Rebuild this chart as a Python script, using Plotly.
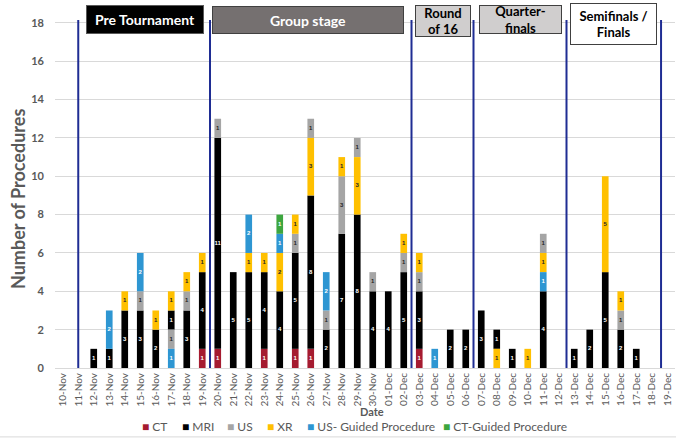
import plotly.graph_objects as go

# ---------------- data ----------------
dates = ['10-Nov', '11-Nov', '12-Nov', '13-Nov', '14-Nov', '15-Nov', '16-Nov', '17-Nov',
         '18-Nov', '19-Nov', '20-Nov', '21-Nov', '22-Nov', '23-Nov', '24-Nov', '25-Nov',
         '26-Nov', '27-Nov', '28-Nov', '29-Nov', '30-Nov', '01-Dec', '02-Dec', '03-Dec',
         '04-Dec', '05-Dec', '06-Dec', '07-Dec', '08-Dec', '09-Dec', '10-Dec', '11-Dec',
         '12-Dec', '13-Dec', '14-Dec', '15-Dec', '16-Dec', '17-Dec', '18-Dec', '19-Dec']

ct  = [0, 0, 0, 0, 0, 0, 0, 0, 0, 1, 1, 0, 0, 1, 0, 1, 1, 0, 0, 0,
       0, 0, 0, 1, 0, 0, 0, 0, 0, 0, 0, 0, 0, 0, 0, 0, 0, 0, 0, 0]
mri = [0, 0, 1, 1, 3, 3, 2, 1, 3, 4, 11, 5, 5, 4, 4, 5, 8, 2, 7, 8,
       4, 4, 5, 3, 0, 2, 2, 3, 1, 1, 0, 4, 0, 1, 2, 5, 2, 1, 0, 0]
us  = [0, 0, 0, 0, 0, 1, 0, 1, 1, 0, 1, 0, 0, 0, 0, 1, 1, 1, 3, 1,
       1, 0, 1, 1, 0, 0, 0, 0, 0, 0, 0, 1, 0, 0, 0, 0, 1, 0, 0, 0]
xr  = [0, 0, 0, 0, 1, 0, 1, 1, 1, 1, 0, 0, 1, 1, 2, 1, 3, 0, 1, 3,
       0, 0, 1, 1, 0, 0, 0, 0, 1, 0, 1, 1, 0, 0, 0, 5, 1, 0, 0, 0]
usg = [0, 0, 0, 2, 0, 2, 0, 1, 0, 0, 0, 0, 2, 0, 1, 0, 0, 2, 0, 0,
       0, 0, 0, 0, 1, 0, 0, 0, 0, 0, 0, 1, 0, 0, 0, 0, 0, 0, 0, 0]
ctg = [0, 0, 0, 0, 0, 0, 0, 0, 0, 0, 0, 0, 0, 0, 1, 0, 0, 0, 0, 0,
       0, 0, 0, 0, 0, 0, 0, 0, 0, 0, 0, 0, 0, 0, 0, 0, 0, 0, 0, 0]

series_names = ['CT', 'MRI', 'US', 'XR', 'US- Guided Procedure', 'CT-Guided Procedure']
series_values = [ct, mri, us, xr, usg, ctg]

stages = ['Pre Tournament', 'Group stage', 'Round<br>of 16', 'Quarter-<br>finals', 'Semifinals /<br>Finals']

# stacking order differs on some days in the original chart
default_order = ['CT', 'MRI', 'US', 'XR', 'US- Guided Procedure', 'CT-Guided Procedure']
order_override = {
    '17-Nov': ['US- Guided Procedure', 'US', 'MRI', 'XR'],
    '26-Nov': ['CT', 'MRI', 'XR', 'US'],
    '29-Nov': ['MRI', 'XR', 'US'],
    '08-Dec': ['XR', 'MRI'],
    '11-Dec': ['MRI', 'US- Guided Procedure', 'XR', 'US'],
}

# ---------------- styles ----------------
colors = {'CT': '#A51B30', 'MRI': '#000000', 'US': '#A5A5A5', 'XR': '#FFC000',
          'US- Guided Procedure': '#2E96D2', 'CT-Guided Procedure': '#3DA63F'}
text_colors = {'CT': 'white', 'MRI': 'white', 'US': '#262626', 'XR': '#262626',
               'US- Guided Procedure': 'white', 'CT-Guided Procedure': 'white'}
divider_pos = [1, 9.5, 22.5, 26.5, 32.5, 38.6]
stage_x = [5.28, 15.85, 24.5, 29.5, 35.5]
stage_y = [1.0014, 1.0, 0.997, 1.001, 0.9885]
stage_w = [116, 190, 54, 81, 85]
stage_h = [27, 26, 30, 27, 40]
stage_fs = [14, 14, 13, 13, 13]
stage_bg = ['#000000', '#757070', '#D0CECE', '#D0CECE', '#FFFFFF']
stage_fg = ['#FFFFFF', '#FFFFFF', '#000000', '#000000', '#000000']
stage_border = ['#595959', '#404040', '#404040', '#404040', '#404040']
legend_x = [0.137, 0.201, 0.274, 0.338, 0.404, 0.623]  # paper x of each legend square

FONT = 'Lato'
GREY = '#595959'

# compute bases per day from stacking order
vals = dict(zip(series_names, series_values))
bases = {n: [None] * len(dates) for n in series_names}
for i, d in enumerate(dates):
    order = order_override.get(d, default_order)
    acc = 0
    for n in order:
        v = vals[n][i]
        if v:
            bases[n][i] = acc
            acc += v

fig = go.Figure()
for n in series_names:
    v = vals[n]
    y = [x if x else None for x in v]
    b = [bases[n][i] if v[i] else 0 for i in range(len(dates))]
    fig.add_trace(go.Bar(
        x=dates, y=y, base=b, name=n, showlegend=False,
        marker=dict(color=colors[n], line=dict(width=0)),
        width=0.43, hoverinfo='x+y+name',
    ))

# value labels in the middle of each segment
for n in series_names:
    v = vals[n]
    xs, ys, ts = [], [], []
    for i, d in enumerate(dates):
        if v[i]:
            xs.append(d)
            ys.append(bases[n][i] + v[i] / 2)
            ts.append(str(v[i]))
    fig.add_trace(go.Scatter(
        x=xs, y=ys, text=ts, mode='text', showlegend=False, hoverinfo='skip',
        textfont=dict(family='Arial', size=6, color=text_colors[n], weight='bold'),
        textposition='middle center', cliponaxis=False))

shapes = []
for p in divider_pos:
    shapes.append(dict(type='line', xref='x', yref='y', x0=p, x1=p, y0=0, y1=18.15,
                       line=dict(color='#1F2D93', width=2)))
# faint chart-area border line at the bottom
shapes.append(dict(type='line', xref='paper', yref='paper', x0=-0.0887, x1=1.0016,
                   y0=-0.198, y1=-0.198, line=dict(color='#D9D9D9', width=1)))

annotations = []
for s, x, y, w, h, fs, bg, fg, bc in zip(stages, stage_x, stage_y, stage_w, stage_h, stage_fs,
                                          stage_bg, stage_fg, stage_border):
    annotations.append(dict(
        text='<b>' + s + '</b>', xref='x', yref='paper', x=x, y=y,
        xanchor='center', yanchor='middle', showarrow=False,
        width=w, height=h, bgcolor=bg, bordercolor=bc, borderwidth=1, borderpad=0,
        font=dict(family=FONT, size=fs, color=fg), align='center', valign='middle'))

annotations.append(dict(text='<b>Date</b>', xref='paper', yref='paper', x=0.512, y=-0.1264,
                        xanchor='center', yanchor='middle', showarrow=False,
                        font=dict(family=FONT, size=11, color=GREY)))
annotations.append(dict(text='<b>Number of Procedures</b>', xref='paper', yref='paper',
                        x=-0.0597, y=0.4856, xanchor='center', yanchor='middle',
                        textangle=-90, showarrow=False,
                        font=dict(family=FONT, size=18, color=GREY)))

# legend (compact, Excel-like)
for n, lx in zip(series_names, legend_x):
    annotations.append(dict(
        text='<span style="color:%s">■</span> %s' % (colors[n], n),
        xref='paper', yref='paper', x=lx, y=-0.1695, xanchor='left', yanchor='middle',
        showarrow=False, font=dict(family=FONT, size=12, color=GREY)))

fig.update_layout(
    width=676, height=441,
    margin=dict(l=55, r=1, t=20, b=73),
    barmode='overlay',
    plot_bgcolor='white', paper_bgcolor='white',
    shapes=shapes, annotations=annotations,
    showlegend=False,
    font=dict(family=FONT, color=GREY),
)
fig.update_xaxes(type='category', categoryorder='array', categoryarray=dates,
                 tickangle=-90, tickfont=dict(family=FONT, size=10, color=GREY),
                 showline=True, linecolor='#D9D9D9', linewidth=1, ticks='',
                 showgrid=False, automargin=False, range=[-0.5, 39.5])
fig.update_yaxes(range=[0, 18.15], tickvals=[0, 2, 4, 6, 8, 10, 12, 14, 16, 18],
                 tickfont=dict(family=FONT, size=11, color=GREY, weight='bold'),
                 showgrid=True, gridcolor='#D9D9D9', gridwidth=1, zeroline=False,
                 ticks='', ticklabelstandoff=10, automargin=False)

fig.write_html('out.html')
